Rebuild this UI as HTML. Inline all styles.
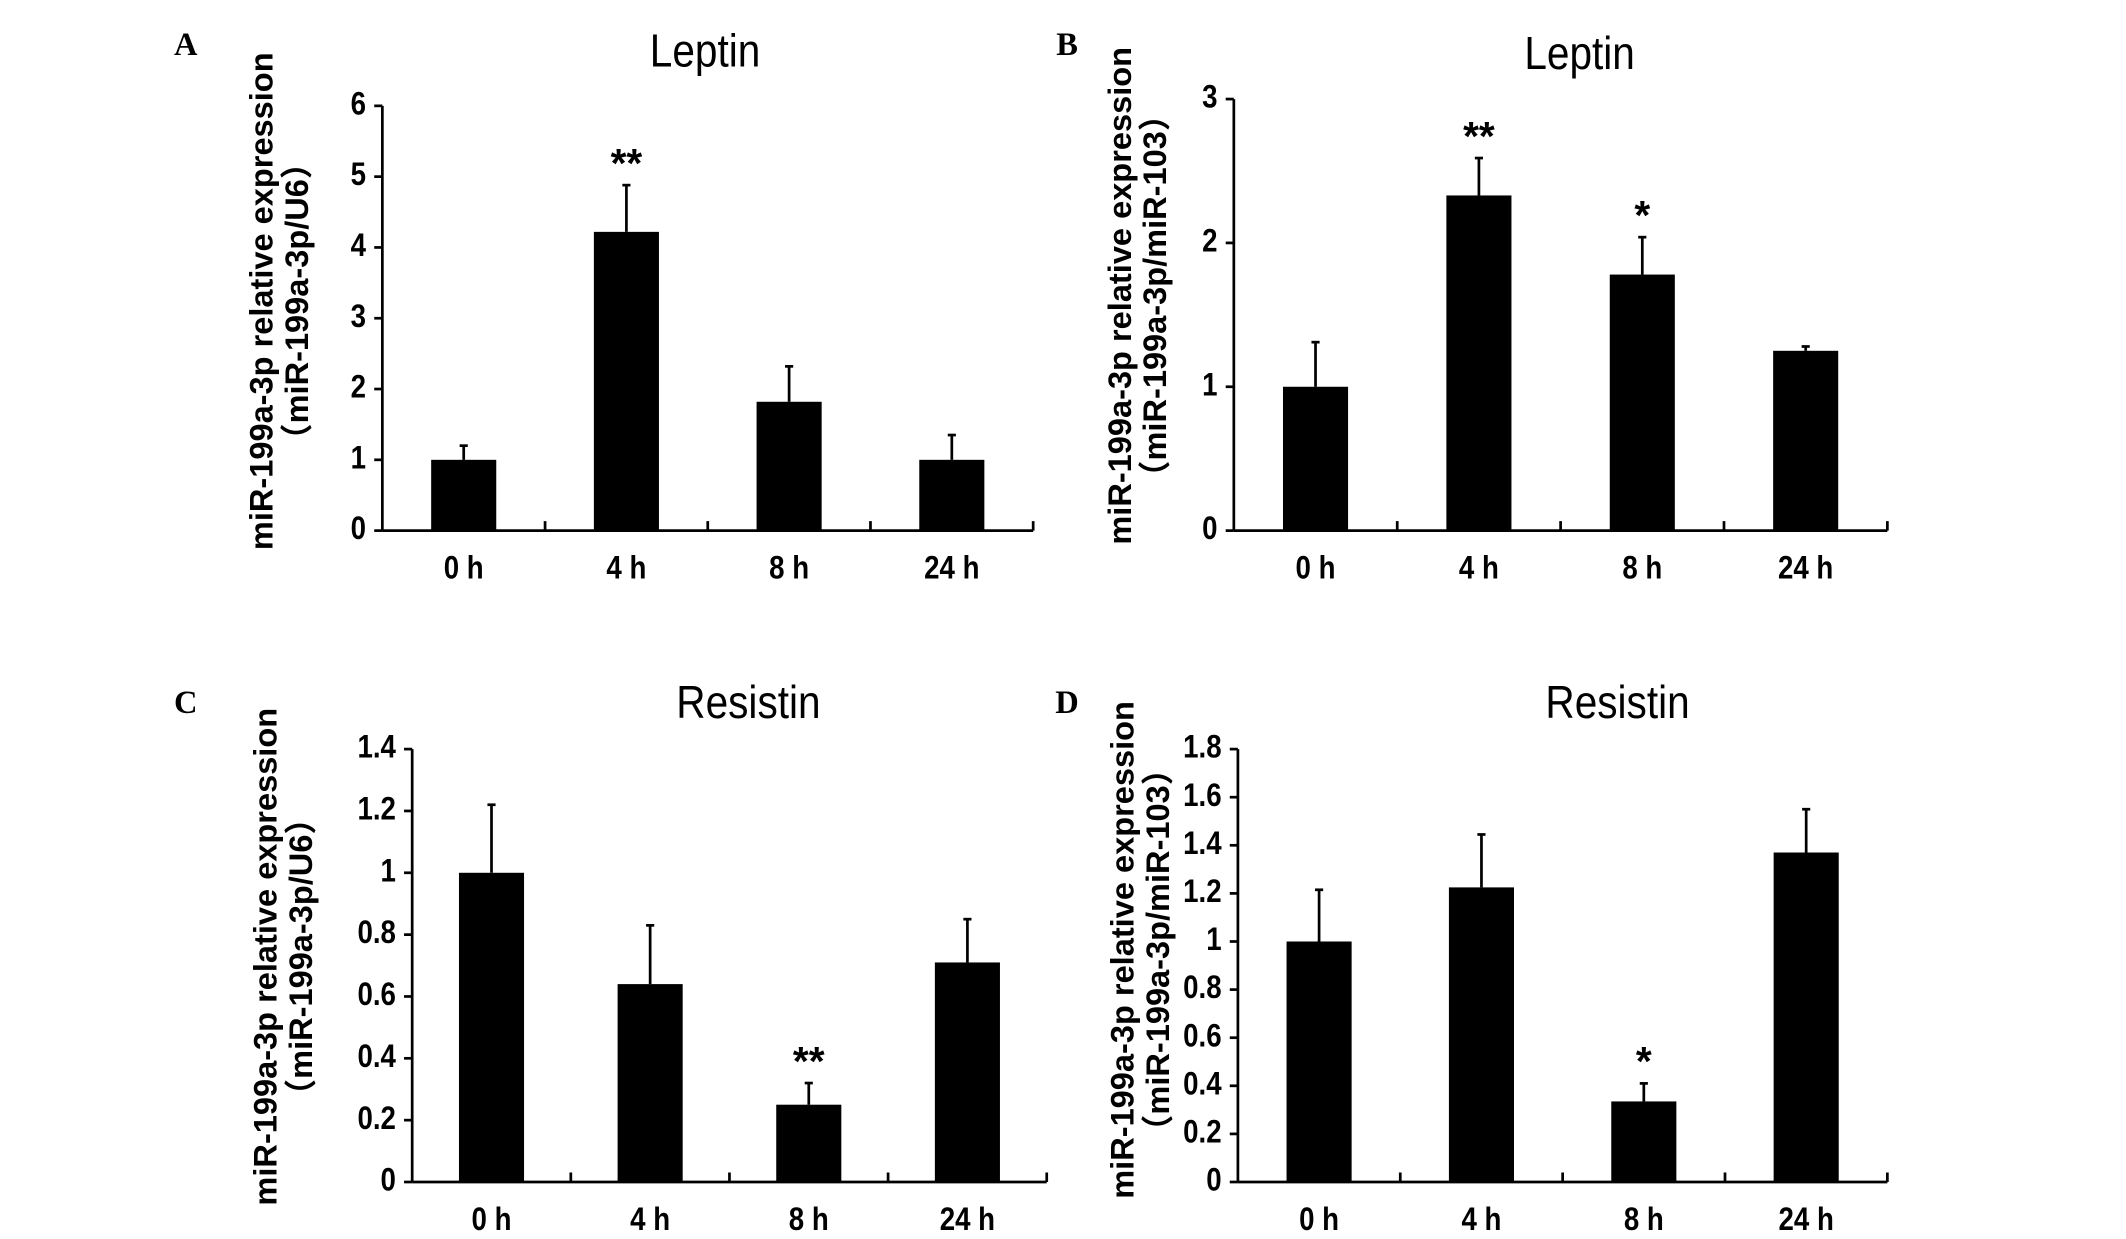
<!DOCTYPE html>
<html><head><meta charset="utf-8"><style>
html,body{margin:0;padding:0;background:#fff;}
svg{display:block;}
text{font-family:"Liberation Sans","Noto Sans CJK SC",sans-serif;fill:#000;}
text.serif{font-family:"Liberation Serif",serif;}
</style></head><body>
<svg id="fig" width="2126" height="1239" viewBox="0 0 1568 913" preserveAspectRatio="none" xmlns="http://www.w3.org/2000/svg"></svg>
<script>
const categories = ["0 h","4 h","8 h","24 h"];
const valuesA = [1.0, 4.22, 1.82, 1.0];
const errorsA = [1.2, 4.88, 2.32, 1.35];
const starsA = ["", "**", "", ""];
const ticksA = [0,1,2,3,4,5,6];
const valuesB = [1.0, 2.33, 1.78, 1.25];
const errorsB = [1.31, 2.59, 2.04, 1.28];
const starsB = ["", "**", "*", ""];
const ticksB = [0,1,2,3];
const valuesC = [1.0, 0.64, 0.25, 0.71];
const errorsC = [1.22, 0.83, 0.32, 0.85];
const starsC = ["", "", "**", ""];
const ticksC = [0,0.2,0.4,0.6,0.8,1,1.2,1.4];
const valuesD = [1.0, 1.225, 0.335, 1.37];
const errorsD = [1.215, 1.445, 0.41, 1.55];
const starsD = ["", "", "*", ""];
const ticksD = [0,0.2,0.4,0.6,0.8,1,1.2,1.4,1.6,1.8];

const NS="http://www.w3.org/2000/svg";
const svg=document.getElementById('fig');
function mk(tag,attrs,parent){const e=document.createElementNS(NS,tag);for(const k in attrs)e.setAttribute(k,attrs[k]);(parent||svg).appendChild(e);return e;}
function narrow(x,y,s){return `translate(${x},${y}) scale(${s},1) translate(${-x},${-y})`;}

const panels=[
 {id:'a',letter:'A',title:'Leptin',sub:'（miR-199a-3p/U6）',vals:valuesA,errs:errorsA,stars:starsA,ticks:ticksA,
  x0:282,x1:762,yTop:78,yZero:391,lx:137,ly:35,tx:520,ty:40,ylx:193,yly:222},
 {id:'b',letter:'B',title:'Leptin',sub:'（miR-199a-3p/miR-103）',vals:valuesB,errs:errorsB,stars:starsB,ticks:ticksB,
  x0:910,x1:1392,yTop:73,yZero:391,lx:787,ly:35,tx:1165,ty:42,ylx:826,yly:218},
 {id:'c',letter:'C',title:'Resistin',sub:'（miR-199a-3p/U6）',vals:valuesC,errs:errorsC,stars:starsC,ticks:ticksC,
  x0:304,x1:772,yTop:552,yZero:871,lx:137,ly:520,tx:552,ty:520,ylx:196,yly:705},
 {id:'d',letter:'D',title:'Resistin',sub:'（miR-199a-3p/miR-103）',vals:valuesD,errs:errorsD,stars:starsD,ticks:ticksD,
  x0:913,x1:1392,yTop:552,yZero:871,lx:787,ly:520,tx:1193,ty:520,ylx:828,yly:700}
];

panels.forEach(p=>{
  const g=mk('g',{});
  
  
  const maxT=p.ticks[p.ticks.length-1];
  const y=v=>p.yZero-(v/maxT)*(p.yZero-p.yTop);
  const band=(p.x1-p.x0)/categories.length;
  const xc=i=>p.x0+band*(i+0.5);
  const bw=48;
  const L=mk('text',{class:'serif',x:p.lx,y:p.ly,'font-weight':'bold','font-size':24,'text-anchor':'middle','dominant-baseline':'middle'},g);
  L.textContent=p.letter;
  
  
  const T=mk('text',{x:p.tx,y:p.ty,'font-size':34,'text-anchor':'middle','dominant-baseline':'middle',transform:narrow(p.tx,p.ty,0.88)},g);
  T.textContent=p.title;
  
  
  const yl=mk('text',{x:0,y:0,'font-size':24,'font-weight':'bold','text-anchor':'middle',transform:`translate(${p.ylx+8},${p.yly}) rotate(-90)`},g);
  
  
  const t1=mk('tspan',{x:0,dy:0},yl);t1.textContent='miR-199a-3p relative expression';
  const t2=mk('tspan',{x:0,dy:26},yl);t2.textContent=p.sub;
  mk('line',{x1:p.x0,y1:p.yTop,x2:p.x0,y2:p.yZero,stroke:'#000','stroke-width':2},g);
  mk('line',{x1:p.x0,y1:p.yZero,x2:p.x1,y2:p.yZero,stroke:'#000','stroke-width':2},g);
  p.ticks.forEach(t=>{
    const ty=y(t);
    mk('line',{x1:p.x0-6,y1:ty,x2:p.x0,y2:ty,stroke:'#000','stroke-width':2},g);
    const tx=p.x0-12;
    const tl=mk('text',{x:tx,y:ty,'font-size':24,'font-weight':'bold','text-anchor':'end','dominant-baseline':'middle',transform:narrow(tx,ty,0.85)},g);
    tl.textContent=String(t);
    
    
  });
  for(let i=1;i<=categories.length;i++){
    const tx=p.x0+band*i;
    mk('line',{x1:tx,y1:p.yZero,x2:tx,y2:p.yZero-7,stroke:'#000','stroke-width':2},g);
  }
  categories.forEach((c,i)=>{
    const cx=xc(i);
    const eb=mk('line',{x1:cx,y1:y(p.vals[i]),x2:cx,y2:y(p.errs[i]),stroke:'#000','stroke-width':2},g);
    
    
    mk('line',{x1:cx-3,y1:y(p.errs[i]),x2:cx+3,y2:y(p.errs[i]),stroke:'#000','stroke-width':2},g);
    const r=mk('rect',{x:cx-bw/2,y:y(p.vals[i]),width:bw,height:p.yZero-y(p.vals[i]),fill:'#000'},g);
    
    
    const ly=p.yZero+29;
    const xl=mk('text',{x:cx,y:ly,'font-size':24,'font-weight':'bold','text-anchor':'middle','dominant-baseline':'middle',transform:narrow(cx,ly,0.85)},g);
    xl.textContent=c;
    
    
    if(p.stars[i]){
      const s=mk('text',{x:cx,y:y(p.errs[i])-6,'font-size':30,'font-weight':'bold','text-anchor':'middle'},g);
      s.textContent=p.stars[i];
      
      
    }
  });
});
</script>
</body></html>
